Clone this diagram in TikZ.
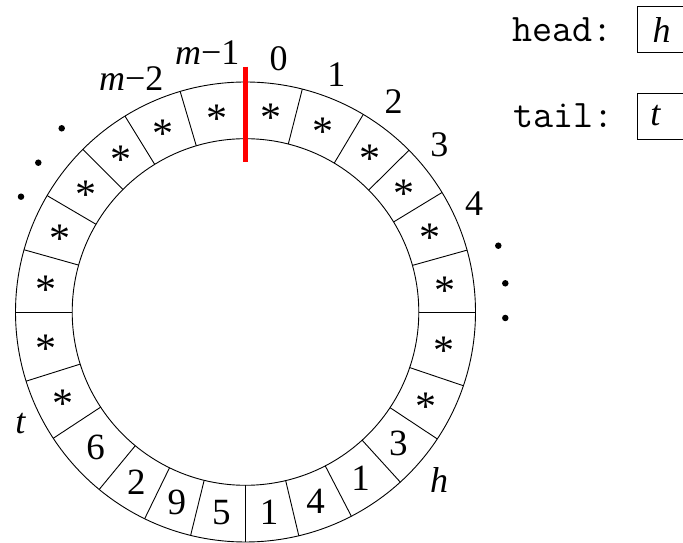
\documentclass[tikz,border=0pt]{standalone}
\usepackage{fontspec}
\setmainfont{Liberation Serif}
\usetikzlibrary{calc}
\begin{document}
\begin{tikzpicture}[x=1pt,y=1pt,
  ring/.style={line width=0.9pt},
  cellval/.style={font=\fontsize{37}{37}\selectfont, inner sep=0pt, anchor=base},
  starval/.style={font=\fontsize{42}{42}\selectfont, inner sep=0pt, anchor=base},
  lbl/.style={font=\fontsize{36}{36}\selectfont, inner sep=0pt},
  dotmark/.style={fill=black, circle, inner sep=0pt, minimum size=6.5pt},
  mono/.style={font=\fontsize{39}{39}\selectfont\ttfamily, inner sep=0pt, anchor=base west},
  regbox/.style={draw, line width=0.9pt, minimum width=60pt, minimum height=46pt, anchor=south west, inner sep=0pt},
  marker/.style={draw=red, line width=5pt}
]
\useasboundingbox (0,0) rectangle (683,543);
\clip (0,0) rectangle (683,543);
\coordinate (C) at (245.5,231);
% ring
\draw[ring] (C) circle[radius=230];
\draw[ring] (C) circle[radius=173.3];
\foreach \a in {0,15.6,31.3,44.7,59.2,75.7,106.5,121.6,135,149.6,164.3,180,197.5,213.3,230.5,244,256.2,270,283.4,297.4,312.3,326.5,341.3}
  \draw[ring] ($(C)+(\a:173.3)$) -- ($(C)+(\a:230)$);
% red marker
\coordinate (redtop) at (245.5,476.3);
\coordinate (redbot) at (245.5,381.3);
\draw[marker] (redtop) -- (redbot);
% empty cells
\foreach \a/\b [count=\i] in {0/15.6,15.6/31.3,31.3/44.7,44.7/59.2,59.2/75.7,75.7/90,90/106.5,106.5/121.6,121.6/135,135/149.6,149.6/164.3,164.3/180,180/197.5,197.5/213.3,326.5/341.3,341.3/360}
{
  \pgfmathsetmacro\m{(\a+\b)/2}
  \node[starval] (s\i) at ($(C)+(\m:201.5)+(0,-19.5)$) {*};
}
% filled cells
\foreach \a/\b/\v [count=\i] in {213.3/230.5/6,230.5/244/2,244/256.2/9,256.2/270/5,270/283.4/1,283.4/297.4/4,297.4/312.3/1,312.3/326.5/3}
{
  \pgfmathsetmacro\m{(\a+\b)/2}
  \node[cellval] (d\i) at ($(C)+(\m:201.5)+(0,-12.8)$) {\v};
}
% index labels
\node[lbl] (l0) at (278.7,484.3) {0};
\node[lbl] (l1) at (336.3,468.5) {1};
\node[lbl] (l2) at (393.7,441.3) {2};
\node[lbl] (l3) at (439.3,398) {3};
\node[lbl] (l4) at (474,339) {4};
\node[lbl, anchor=base] (lm1) at (207.3,478) {\textit{m}−1};
\node[lbl, anchor=base] (lm2) at (131.2,452.3) {\textit{m}−2};
\node[lbl, anchor=base] (lh) at (439,50.7) {\textit{h}};
\node[lbl, anchor=base] (lt) at (20.7,109.7) {\textit{t}};
% ellipsis dots
\node[dotmark] (dr1) at (498.3,297.3) {};
\node[dotmark] (dr2) at (505.3,259.7) {};
\node[dotmark] (dr3) at (505.3,225) {};
\node[dotmark] (dl1) at (61.7,414.7) {};
\node[dotmark] (dl2) at (38.3,380.3) {};
\node[dotmark] (dl3) at (21,346.3) {};
% head / tail
\node[mono] (headlbl) at (512,501.3) {head:};
\node[mono] (taillbl) at (513,415) {tail:};
\node[regbox] (headbox) at (637.3,490.3) {};
\node[regbox] (tailbox) at (637.3,403) {};
\node[lbl, anchor=base] (hval) at (661.7,500.3) {\textit{h}};
\node[lbl, anchor=base] (tval) at (655.7,417) {\textit{t}};
\end{tikzpicture}
\end{document}
